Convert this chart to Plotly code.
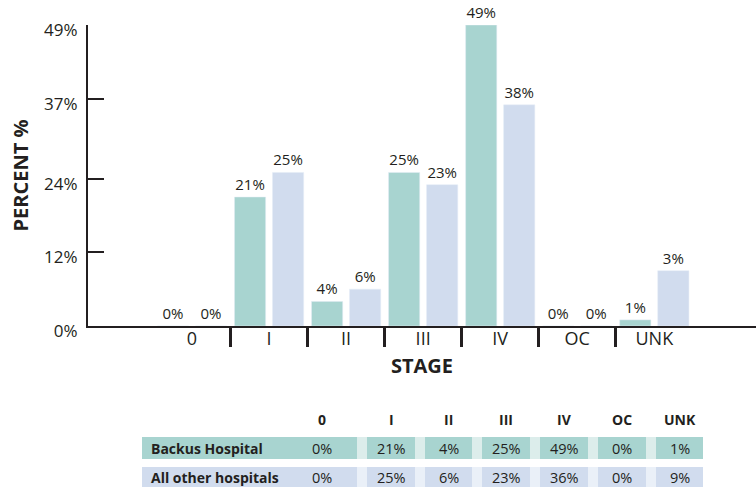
import plotly.graph_objects as go

# ---- data ----
stages = ["0", "I", "II", "III", "IV", "OC", "UNK"]
backus = [0, 21, 4, 25, 49, 0, 1]
others = [0, 25, 6, 23, 36, 0, 9]
backus_labels = ["0%", "21%", "4%", "25%", "49%", "0%", "1%"]
others_labels = ["0%", "25%", "6%", "23%", "38%", "0%", "3%"]
table_backus = ["0%", "21%", "4%", "25%", "49%", "0%", "1%"]
table_others = ["0%", "25%", "6%", "23%", "36%", "0%", "9%"]
series_names = ["Backus Hospital", "All other hospitals"]
y_ticks = [0, 12, 24, 37, 49]
y_ticktext = ["0%", "12%", "24%", "37%", "49%"]

TEAL = "#a8d4d0"
BLUE = "#d1dcee"
TEAL_L = "#dcedeb"
BLUE_L = "#eaf0f8"
INK = "#231f20"
FONT = "Open Sans"

W, H = 756, 487
L, R, T, B = 88, 0, 25, 161
PW, PH = W - L - R, H - T - B

def px(x):
    return (x - L) / PW

def py(y):
    return (H - B - y) / PH

fig = go.Figure()
fig.add_trace(go.Bar(x=stages, y=backus, name=series_names[0], marker_color=TEAL,
                     text=backus_labels, textposition="outside", cliponaxis=False,
                     textfont=dict(size=15, color=INK, family=FONT)))
fig.add_trace(go.Bar(x=stages, y=others, name=series_names[1], marker_color=BLUE,
                     text=others_labels, textposition="outside", cliponaxis=False,
                     textfont=dict(size=15, color=INK, family=FONT)))
# invisible trace to activate divider axis
fig.add_trace(go.Scatter(x=[None], y=[None], xaxis="x2", showlegend=False, hoverinfo="skip"))

xr = [-1.35, len(stages) - 1 + 1.32]
dividers = [i + 0.5 for i in range(len(stages) - 1)]

fig.update_layout(
    width=W, height=H,
    margin=dict(l=L, r=R, t=T, b=B, pad=0),
    plot_bgcolor="white", paper_bgcolor="white",
    showlegend=False,
    barmode="group", bargap=0.013, bargroupgap=0.18,
    font=dict(family=FONT, color=INK),
    xaxis=dict(type="category", range=xr, showline=True, linecolor=INK, linewidth=2,
               ticks="", showgrid=False, zeroline=False, ticklabelstandoff=-5,
               tickfont=dict(size=18, color=INK, family=FONT),
               title=dict(text="<b>STAGE</b>", font=dict(size=20, color=INK, family=FONT), standoff=10)),
    xaxis2=dict(overlaying="x", anchor="y", range=xr, type="linear", tickvals=dividers,
                showticklabels=False, ticks="outside", ticklen=20, tickwidth=3, tickcolor=INK,
                showline=False, showgrid=False, zeroline=False, side="bottom"),
    yaxis=dict(range=[0, 49], tickvals=y_ticks, ticktext=y_ticktext, showline=True,
               linecolor=INK, linewidth=2, ticks="inside", ticklen=16, tickwidth=2, tickcolor=INK,
               showgrid=False, zeroline=False, ticklabelstandoff=5, ticklabelshift=5,
               tickfont=dict(size=17, color=INK, family=FONT),
               title=dict(text="<b>PERCENT %</b>", font=dict(size=20, color=INK, family=FONT), standoff=10)),
)

# ---- table ----
col_centers = [322, 391, 448.5, 506, 564, 622, 679.5]
cell_edges = [(367, 415), (425, 472), (482, 530), (540, 588), (598, 646), (656, 703)]
rows = [(437, 459, TEAL, TEAL_L, table_backus, series_names[0]),
        (467, 488, BLUE, BLUE_L, table_others, series_names[1])]
shapes = []
annotations = []
for (y0, y1, dark, light, vals, name) in rows:
    shapes.append(dict(type="rect", xref="paper", yref="paper", x0=px(142), x1=px(703),
                       y0=py(y1), y1=py(y0), fillcolor=light, line=dict(width=0), layer="below"))
    shapes.append(dict(type="rect", xref="paper", yref="paper", x0=px(142), x1=px(357),
                       y0=py(y1), y1=py(y0), fillcolor=dark, line=dict(width=0), layer="below"))
    for (a, b) in cell_edges:
        shapes.append(dict(type="rect", xref="paper", yref="paper", x0=px(a), x1=px(b),
                           y0=py(y1), y1=py(y0), fillcolor=dark, line=dict(width=0), layer="below"))
    yc = py((y0 + y1) / 2)
    annotations.append(dict(xref="paper", yref="paper", x=px(149), y=yc, xanchor="left",
                            yanchor="middle", text="<b>" + name + "</b>", showarrow=False,
                            font=dict(size=14, color=INK, family=FONT)))
    for c, v in zip(col_centers, vals):
        annotations.append(dict(xref="paper", yref="paper", x=px(c), y=yc, xanchor="center",
                                yanchor="middle", text=v, showarrow=False,
                                font=dict(size=14.5, color=INK, family=FONT)))
for c, s in zip(col_centers, stages):
    annotations.append(dict(xref="paper", yref="paper", x=px(c), y=py(419), xanchor="center",
                            yanchor="middle", text="<b>" + s + "</b>", showarrow=False,
                            font=dict(size=14, color=INK, family=FONT)))

fig.update_layout(shapes=shapes, annotations=annotations)
fig.write_html("out.html")
